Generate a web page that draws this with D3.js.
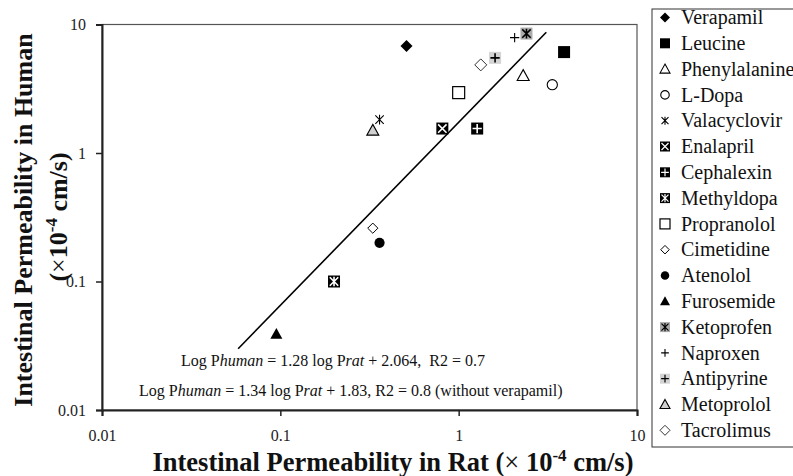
<!DOCTYPE html>
<html><head><meta charset="utf-8">
<script src="https://cdn.jsdelivr.net/npm/d3@7"></script>
<style>body{margin:0;background:#fff}svg{display:block;font-family:"Liberation Serif","Times New Roman",serif}</style>
</head><body><svg id="c" width="793" height="476"></svg>
<script>
const drugs = ["Verapamil","Leucine","Phenylalanine","L-Dopa","Valacyclovir","Enalapril","Cephalexin","Methyldopa","Propranolol","Cimetidine","Atenolol","Furosemide","Ketoprofen","Naproxen","Antipyrine","Metoprolol","Tacrolimus"];
const ratP   = [0.51, 3.9, 2.3, 3.35, 0.36, 0.81, 1.27, 0.20, 1.0, 0.33, 0.36, 0.095, 2.4, 2.06, 1.6, 0.33, 1.33];
const humanP = [6.8, 6.1, 4.0, 3.4, 1.82, 1.55, 1.55, 0.10, 2.95, 0.26, 0.20, 0.039, 8.5, 7.9, 5.5, 1.5, 4.85];
const markerStyles = [
  {s:"diamond",fill:"#000",stroke:"none"},
  {s:"square",fill:"#000",stroke:"none"},
  {s:"triangle",fill:"#fff",stroke:"#000"},
  {s:"circle",fill:"#fff",stroke:"#000"},
  {s:"none",inner:"star",ic:"#000"},
  {s:"square",fill:"#000",stroke:"none",inner:"x",ic:"#fff"},
  {s:"square",fill:"#000",stroke:"none",inner:"plus",ic:"#fff"},
  {s:"square",fill:"#000",stroke:"none",inner:"star",ic:"#fff"},
  {s:"square",fill:"#fff",stroke:"#000"},
  {s:"diamond",fill:"#fff",stroke:"#000",small:true},
  {s:"circle",fill:"#000",stroke:"none"},
  {s:"triangle",fill:"#000",stroke:"none"},
  {s:"square",fill:"#aaa",stroke:"none",inner:"star",ic:"#000"},
  {s:"none",inner:"plus",ic:"#000"},
  {s:"square",fill:"#d4d4d4",stroke:"none",inner:"plus",ic:"#000"},
  {s:"triangle",fill:"#d0d0d0",stroke:"#000"},
  {s:"diamond",fill:"#fff",stroke:"#333"}
];
const lineX = [0.058, 3.1];
const lineY = [0.030, 8.7];
const xTicks = [0.01, 0.1, 1, 10];
const yTicks = [0.01, 0.1, 1, 10];

const svg = d3.select("#c");
const L=102, R=637, T=24.5, B=410;
const x = d3.scaleLog().domain([0.01,10]).range([L,R]);
const y = d3.scaleLog().domain([0.01,10]).range([B,T]);

// frame
svg.append("rect").attr("x",L).attr("y",T).attr("width",R-L).attr("height",B-T)
  .attr("fill","none").attr("stroke","#555").attr("stroke-width",1.2);

const xa = svg.append("g").attr("transform",`translate(0,${B})`)
  .call(d3.axisBottom(x).tickValues(xTicks).tickFormat(d=>String(d)).tickSize(6).tickPadding(14));
const ya = svg.append("g").attr("transform",`translate(${L},0)`)
  .call(d3.axisLeft(y).tickValues(yTicks).tickFormat(d=>String(d)).tickSize(6).tickPadding(10));
[xa,ya].forEach(a=>{
  a.attr("font-family",null);
  a.select(".domain").attr("stroke","#222").attr("stroke-width",2);
  a.selectAll(".tick line").attr("stroke","#222").attr("stroke-width",1.5);
  a.selectAll(".tick text").attr("font-size",16).attr("fill","#222");
});
ya.selectAll(".tick text").attr("dy","0.32em");

// regression line
svg.append("line").attr("x1",x(lineX[0])).attr("y1",y(lineY[0])).attr("x2",x(lineX[1])).attr("y2",y(lineY[1]))
  .attr("stroke","#000").attr("stroke-width",1.6);

function drawMarker(g, st, sz){
  const h = sz/2;
  if(st.s==="diamond"){
    const k = st.small ? h*0.85 : h;
    g.append("path").attr("d",`M0,${-k}L${k},0L0,${k}L${-k},0Z`).attr("fill",st.fill).attr("stroke",st.stroke).attr("stroke-width",1);
  } else if(st.s==="square"){
    g.append("rect").attr("x",-h).attr("y",-h).attr("width",sz).attr("height",sz).attr("fill",st.fill).attr("stroke",st.stroke).attr("stroke-width",1.2);
  } else if(st.s==="triangle"){
    g.append("path").attr("d",`M0,${-h}L${h},${h*0.8}L${-h},${h*0.8}Z`).attr("fill",st.fill).attr("stroke",st.stroke).attr("stroke-width",1.1);
  } else if(st.s==="circle"){
    g.append("circle").attr("r",h*0.85).attr("fill",st.fill).attr("stroke",st.stroke).attr("stroke-width",1.1);
  }
  if(st.inner){
    const k = h*0.7;
    const w = st.s==="none" ? 1.1 : (sz>10?1.6:1.2);
    const p = [];
    if(st.inner==="x"||st.inner==="star"){ p.push(`M${-k},${-k}L${k},${k}`, `M${-k},${k}L${k},${-k}`); }
    if(st.inner==="plus"){ p.push(`M${-k*1.1},0L${k*1.1},0`, `M0,${-k*1.1}L0,${k*1.1}`); }
    if(st.inner==="star"){ p.push(`M0,${-k*1.15}L0,${k*1.15}`); }
    g.append("path").attr("d",p.join("")).attr("stroke",st.ic).attr("stroke-width",w).attr("fill","none");
  }
}

// points
drugs.forEach((d,i)=>{
  const g = svg.append("g").attr("transform",`translate(${x(ratP[i])},${y(humanP[i])})`);
  drawMarker(g, markerStyles[i], 12);
});

// equations
const eqs = [
  {yy:366, xx:181, parts:[["Log P",0],["human",1],[" = 1.28 log P",0],["rat",1],[" + 2.064,  R2 = 0.7",0]]},
  {yy:396, xx:139, parts:[["Log P",0],["human",1],[" = 1.34 log P",0],["rat",1],[" + 1.83, R2 = 0.8 (without verapamil)",0]]}
];
eqs.forEach(e=>{
  const t = svg.append("text").attr("x",e.xx).attr("y",e.yy).attr("font-size",16).attr("fill","#111").style("white-space","pre");
  e.parts.forEach(p=>t.append("tspan").text(p[0]).attr("font-style",p[1]?"italic":"normal"));
});

// x title
const xt = svg.append("text").attr("x",393).attr("y",471).attr("text-anchor","middle").attr("font-size",26.5).attr("font-weight","bold").attr("fill","#111");
xt.append("tspan").text("Intestinal Permeability in Rat (");
xt.append("tspan").text("× ").attr("font-weight","normal");
xt.append("tspan").text("10");
xt.append("tspan").text("-4").attr("font-size",17).attr("dy",-10);
xt.append("tspan").text(" cm/s)").attr("dy",10);

// y title
svg.append("text").attr("transform","translate(32,220) rotate(-90)").attr("text-anchor","middle").attr("font-size",26).attr("font-weight","bold").attr("fill","#111")
  .text("Intestinal Permeability in Human");
const yt2 = svg.append("text").attr("transform","translate(67,217) rotate(-90)").attr("text-anchor","middle").attr("font-size",26).attr("font-weight","bold").attr("fill","#111");
yt2.append("tspan").text("(");
yt2.append("tspan").text("×").attr("font-weight","normal");
yt2.append("tspan").text("10");
yt2.append("tspan").text("-4").attr("font-size",17).attr("dy",-10);
yt2.append("tspan").text(" cm/s)").attr("dy",10);

// legend
const lg = svg.append("g");
lg.append("rect").attr("x",652).attr("y",9).attr("width",160).attr("height",438).attr("fill","#fff").attr("stroke","#333").attr("stroke-width",1);
drugs.forEach((d,i)=>{
  const cy = 17.5 + i*25.8;
  const g = lg.append("g").attr("transform",`translate(665,${cy})`);
  drawMarker(g, markerStyles[i], 10);
  lg.append("text").attr("x",681).attr("y",cy).attr("dy","0.33em").attr("font-size",20).attr("fill","#111").text(d);
});
</script></body></html>
